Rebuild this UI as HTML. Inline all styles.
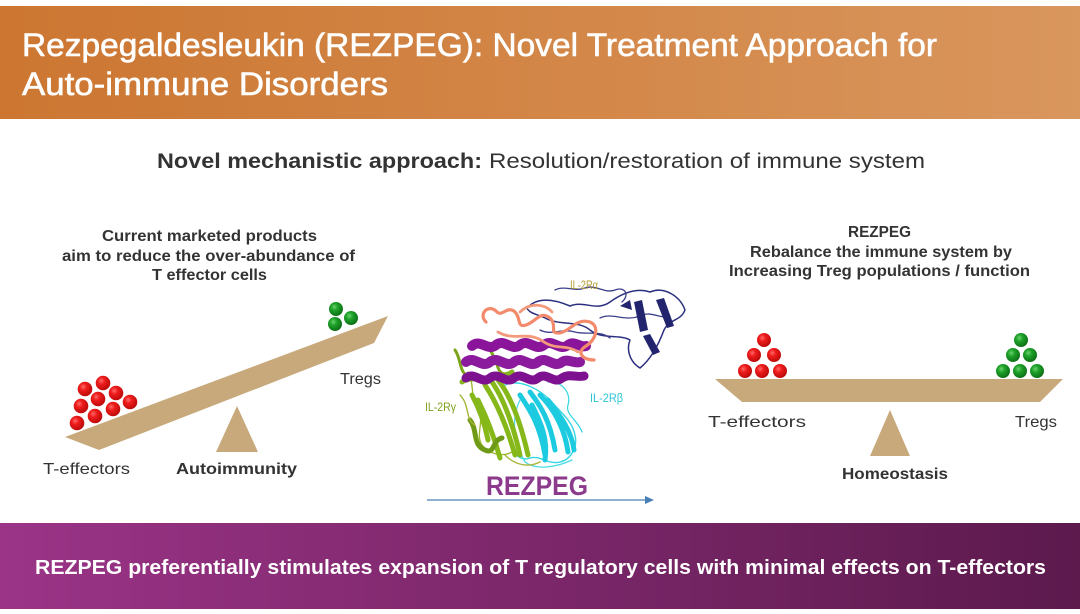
<!DOCTYPE html>
<html>
<head>
<meta charset="utf-8">
<style>
  html,body{margin:0;padding:0;background:#fff;}
  svg{display:block;}
  text{font-family:"Liberation Sans", sans-serif;}
</style>
</head>
<body>
<svg width="1080" height="614" viewBox="0 0 1080 614" xmlns="http://www.w3.org/2000/svg">
  <defs>
    <linearGradient id="topg" x1="0" y1="0" x2="1" y2="0">
      <stop offset="0" stop-color="#cc7631"/>
      <stop offset="1" stop-color="#d9965d"/>
    </linearGradient>
    <linearGradient id="botg" x1="0" y1="0" x2="1" y2="0">
      <stop offset="0" stop-color="#9b3487"/>
      <stop offset="1" stop-color="#5c1a4d"/>
    </linearGradient>
    <radialGradient id="red" cx="0.38" cy="0.35" r="0.7">
      <stop offset="0" stop-color="#ff6a6a"/>
      <stop offset="0.35" stop-color="#ee1c1c"/>
      <stop offset="1" stop-color="#b80808"/>
    </radialGradient>
    <radialGradient id="grn" cx="0.38" cy="0.35" r="0.7">
      <stop offset="0" stop-color="#6ed06e"/>
      <stop offset="0.35" stop-color="#1ea32a"/>
      <stop offset="1" stop-color="#0b6a14"/>
    </radialGradient>
  </defs>

  <rect x="0" y="0" width="1080" height="614" fill="#fff"/>

  <!-- Top banner -->
  <rect x="0" y="6" width="1080" height="113" fill="url(#topg)"/>
  <g fill="#fff" stroke="#fff" stroke-width="0.6">
    <text x="22" y="56" font-size="32" textLength="915" lengthAdjust="spacingAndGlyphs">Rezpegaldesleukin (REZPEG): Novel Treatment Approach for</text>
    <text x="22" y="95" font-size="32" textLength="366" lengthAdjust="spacingAndGlyphs">Auto-immune Disorders</text>
  </g>

  <!-- Subtitle -->
  <text x="157" y="168" font-size="21" font-weight="bold" fill="#333" textLength="325" lengthAdjust="spacingAndGlyphs">Novel mechanistic approach:</text>
  <text x="489" y="168" font-size="21" fill="#333" textLength="436" lengthAdjust="spacingAndGlyphs">Resolution/restoration of immune system</text>

  <!-- Left text block -->
  <g font-size="16" font-weight="bold" fill="#333">
    <text x="102" y="241" textLength="215" lengthAdjust="spacingAndGlyphs">Current marketed products</text>
    <text x="62" y="261" textLength="293" lengthAdjust="spacingAndGlyphs">aim to reduce the over-abundance of</text>
    <text x="152" y="280" textLength="115" lengthAdjust="spacingAndGlyphs">T effector cells</text>
  </g>

  <!-- Right text block -->
  <g font-size="16" font-weight="bold" fill="#333">
    <text x="848" y="237" textLength="63" lengthAdjust="spacingAndGlyphs">REZPEG</text>
    <text x="750" y="257" textLength="262" lengthAdjust="spacingAndGlyphs">Rebalance the immune system by</text>
    <text x="729" y="276" textLength="301" lengthAdjust="spacingAndGlyphs">Increasing Treg populations / function</text>
  </g>

  <!-- Left seesaw -->
  <polygon points="65,437 388,316 374,343 99,450" fill="#c8a97c"/>
  <polygon points="237,406 216,452 258,452" fill="#c8a97c"/>
  <g fill="url(#red)">
    <circle cx="77" cy="423" r="7.3"/>
    <circle cx="95" cy="416" r="7.3"/>
    <circle cx="113" cy="409" r="7.3"/>
    <circle cx="130" cy="402" r="7.3"/>
    <circle cx="81" cy="406" r="7.3"/>
    <circle cx="98" cy="399" r="7.3"/>
    <circle cx="116" cy="393" r="7.3"/>
    <circle cx="85" cy="389" r="7.3"/>
    <circle cx="103" cy="383" r="7.3"/>
  </g>
  <g fill="url(#grn)">
    <circle cx="336" cy="309" r="7"/>
    <circle cx="351" cy="318" r="7"/>
    <circle cx="335" cy="324" r="7"/>
  </g>
  <text x="340" y="384" font-size="16" fill="#333" textLength="41" lengthAdjust="spacingAndGlyphs">Tregs</text>
  <text x="43" y="474" font-size="16" fill="#333" textLength="87" lengthAdjust="spacingAndGlyphs">T-effectors</text>
  <text x="176" y="474" font-size="16" font-weight="bold" fill="#333" textLength="121" lengthAdjust="spacingAndGlyphs">Autoimmunity</text>

  <!-- Right seesaw -->
  <polygon points="715,379 1063,379 1040,402 742,402" fill="#c8a97c"/>
  <polygon points="890,410 870,456 910,456" fill="#c8a97c"/>
  <g fill="url(#red)">
    <circle cx="764" cy="340" r="7"/>
    <circle cx="754" cy="355" r="7"/>
    <circle cx="774" cy="355" r="7"/>
    <circle cx="745" cy="371" r="7"/>
    <circle cx="762" cy="371" r="7"/>
    <circle cx="780" cy="371" r="7"/>
  </g>
  <g fill="url(#grn)">
    <circle cx="1021" cy="340" r="7"/>
    <circle cx="1013" cy="355" r="7"/>
    <circle cx="1030" cy="355" r="7"/>
    <circle cx="1003" cy="371" r="7"/>
    <circle cx="1020" cy="371" r="7"/>
    <circle cx="1037" cy="371" r="7"/>
  </g>
  <text x="708" y="427" font-size="16" fill="#333" textLength="98" lengthAdjust="spacingAndGlyphs">T-effectors</text>
  <text x="1015" y="427" font-size="16" fill="#333" textLength="42" lengthAdjust="spacingAndGlyphs">Tregs</text>
  <text x="842" y="479" font-size="16" font-weight="bold" fill="#333" textLength="106" lengthAdjust="spacingAndGlyphs">Homeostasis</text>

  <!-- Protein structure (approximation) -->
  <g fill="none" stroke-linecap="round" stroke-linejoin="round">
    <!-- cyan -->
    <path d="M505,385 C520,378 540,390 550,400 C560,412 572,420 575,435 C578,448 570,460 560,462 C548,465 540,455 530,458 C520,462 510,452 512,440" stroke="#33d6e2" stroke-width="1.4"/>
    <path d="M520,395 C530,410 540,425 545,455 M530,392 C540,405 550,420 555,450 M540,395 C555,410 565,430 568,452 M548,400 C560,415 572,432 574,450 M532,405 C542,425 548,440 545,460" stroke="#1ccbe0" stroke-width="5"/>
    <path d="M520,400 C510,420 515,445 525,462 C535,470 555,468 572,460" stroke="#4fdbe6" stroke-width="1.3"/>
    <path d="M548,382 C560,380 572,392 568,405 C565,415 578,420 582,432" stroke="#33d6e2" stroke-width="1.2"/>
    <!-- green -->
    <path d="M468,372 C475,385 470,400 478,410 C485,420 475,435 482,445 C490,455 505,458 515,450" stroke="#9ab52a" stroke-width="1.3"/>
    <path d="M462,382 C470,376 480,381 488,378 C495,372 505,378 512,372" stroke="#86b21c" stroke-width="5"/>
    <path d="M485,385 C495,400 505,420 515,455 M492,382 C503,398 512,420 520,455 M498,380 C510,395 520,420 528,455 M478,400 C488,420 495,440 500,458 M472,395 C480,410 485,425 488,440" stroke="#86b81a" stroke-width="5"/>
    <path d="M470,420 C478,430 472,445 485,450 C495,455 492,440 502,438" stroke="#6f9a16" stroke-width="5"/>
    <path d="M455,350 C462,360 458,372 470,378 M490,350 C500,365 495,370 505,375" stroke="#7ca41a" stroke-width="3"/>
    <path d="M505,455 C515,465 528,468 540,462 M460,395 C470,405 465,420 475,425" stroke="#a8b63a" stroke-width="1.4"/>
    <!-- navy loops -->
    <path d="M527,308 C538,296 556,300 570,306 C584,300 596,312 610,302 C624,292 638,288 650,292 C664,286 680,296 685,310 C680,322 670,318 664,330 C658,346 650,360 640,368 C630,362 626,350 630,340 C620,334 602,340 590,330 C578,320 560,326 545,318 C536,314 529,313 527,308 Z" stroke="#2b2f7e" stroke-width="1.5"/>
    <path d="M555,290 C565,285 575,292 585,288 C595,284 605,294 615,290 C625,286 630,295 622,302 M600,318 C612,312 625,322 640,316 C652,310 660,320 670,316 M540,330 C552,336 560,328 575,332 C585,335 600,330 610,338" stroke="#3b3f8a" stroke-width="1.3"/>
    <!-- purple helices -->
    <path d="M472,346 C480,338 488,352 496,345 C504,338 512,352 520,345 C528,338 536,352 544,345 C552,338 560,352 568,345 C574,340 580,348 586,346" stroke="#8a159b" stroke-width="10"/>
    <path d="M466,362 C474,355 482,369 490,362 C498,355 506,369 514,362 C522,355 530,369 538,362 C546,355 554,369 562,362 C568,358 574,364 580,362" stroke="#8b1a9c" stroke-width="10"/>
    <path d="M466,378 C474,371 482,385 490,378 C498,371 506,385 514,378 C522,371 530,385 538,378 C546,371 554,385 562,378 C570,373 576,378 584,376" stroke="#7e1190" stroke-width="9"/>
    <!-- salmon loops -->
    <path d="M486,322 C478,314 488,304 496,311 C502,318 506,306 514,311 C522,318 516,328 526,325 C536,322 540,310 550,318 C558,326 548,334 560,333 C572,330 576,318 590,322 C600,326 596,340 586,346 C576,352 582,360 594,360" stroke="#f28a6b" stroke-width="3.2"/>
    <path d="M498,332 C515,342 528,330 544,342 C556,350 566,344 578,352 M520,312 C530,302 545,304 552,312" stroke="#f49a7c" stroke-width="2.8"/>
  </g>
  <!-- navy sheets -->
  <g fill="#22256e">
    <polygon points="634,302 642,300 648,330 640,332"/>
    <polygon points="656,300 664,298 674,326 667,328"/>
    <polygon points="643,336 650,334 660,352 653,355"/>
    <polygon points="620,306 630,300 632,310"/>
  </g>

  <!-- protein labels -->
  <text x="570" y="289" font-size="12" fill="#b39a2e" textLength="28" lengthAdjust="spacingAndGlyphs">IL-2Rα</text>
  <text x="590" y="402" font-size="12" fill="#2cc6d8" textLength="33" lengthAdjust="spacingAndGlyphs">IL-2Rβ</text>
  <text x="425" y="411" font-size="12" fill="#7fa020" textLength="31" lengthAdjust="spacingAndGlyphs">IL-2Rγ</text>

  <text x="486" y="495" font-size="27" font-weight="bold" fill="#8c3a8c" textLength="102" lengthAdjust="spacingAndGlyphs">REZPEG</text>
  <line x1="427" y1="500" x2="647" y2="500" stroke="#4a7fb5" stroke-width="1.3"/>
  <polygon points="654,500 645,496 645,504" fill="#4a7fb5"/>

  <!-- Bottom banner -->
  <rect x="0" y="523" width="1080" height="86" fill="url(#botg)"/>
  <text x="35" y="574" font-size="20" font-weight="bold" fill="#fff" textLength="1011" lengthAdjust="spacingAndGlyphs">REZPEG preferentially stimulates expansion of T regulatory cells with minimal effects on T-effectors</text>
</svg>
</body>
</html>
